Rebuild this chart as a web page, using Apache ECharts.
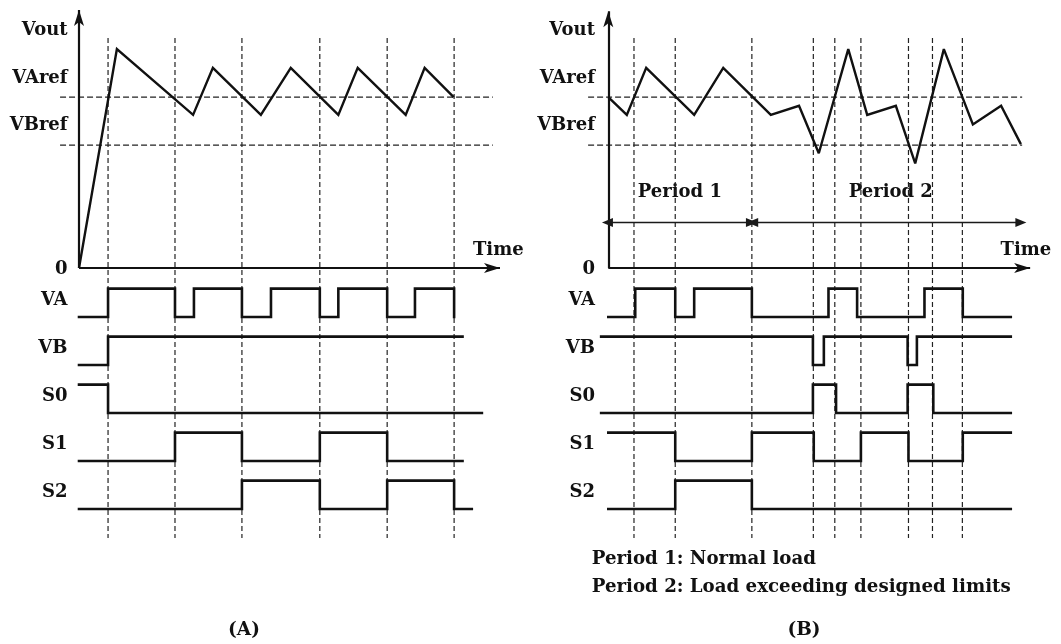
<!DOCTYPE html>
<html><head><meta charset="utf-8">
<script src="https://cdn.jsdelivr.net/npm/echarts@6/dist/echarts.min.js"></script>
<style>html,body{margin:0;padding:0;background:#fff}#c{width:1061px;height:644px}</style>
</head><body><div id="c"></div>
<script>
// ================= DATA (time in arbitrary units, voltage in arbitrary units) =================
const VAref = 3.56;
const VBref = 2.56;
const voutLabels = ['Vout', 'VAref', 'VBref', '0'];
const signalNames = ['VA', 'VB', 'S0', 'S1', 'S2'];
const axisTitle = 'Time';

// Panel A
const A_vout = [[0,0],[9.0,4.56],[27.1,3.19],[31.8,4.17],[43.2,3.19],[50.3,4.17],[61.6,3.19],[66.2,4.17],[77.6,3.19],[82.1,4.17],[89.0,3.56]];
const A_marks = [6.9, 22.8, 38.7, 57.2, 73.2, 89.1];
const A_VA = [[0,0],[6.9,1],[22.8,0],[27.3,1],[38.7,0],[45.6,1],[57.2,0],[61.6,1],[73.2,0],[79.8,1],[89.1,0]];
const A_VB = [[0,0],[6.9,1],[91.1,1]];
const A_S0 = [[0,1],[6.9,0],[95.7,0]];
const A_S1 = [[0,0],[22.8,1],[38.7,0],[57.2,1],[73.2,0],[91.1,0]];
const A_S2 = [[0,0],[38.7,1],[57.2,0],[73.2,1],[89.1,0],[93.3,0]];

// Panel B
const B_vout = [[0,3.56],[4.4,3.19],[9.0,4.17],[20.4,3.19],[27.3,4.17],[38.6,3.19],[45.3,3.38],[50.0,2.39],[57.0,4.56],[61.5,3.19],[68.3,3.38],[72.9,2.18],[79.7,4.56],[86.6,2.99],[93.3,3.38],[98.0,2.58]];
const B_marks = [6.1, 15.9, 34.1, 48.7, 53.8, 60.0, 71.3, 77.0, 84.1];
const B_VA = [[0,0],[6.4,1],[15.9,0],[20.4,1],[34.1,0],[52.3,1],[59.1,0],[75.1,1],[84.2,0],[95.6,0]];
const B_VB = [[-1.7,1],[48.6,0],[51.2,1],[71.1,0],[73.3,1],[95.6,1]];
const B_S0 = [[-1.7,0],[48.6,1],[54.1,0],[71.1,1],[77.2,0],[95.6,0]];
const B_S1 = [[0,1],[15.9,0],[34.1,1],[48.8,0],[60.0,1],[71.3,0],[84.2,1],[95.6,1]];
const B_S2 = [[0,0],[15.9,1],[34.1,0],[95.6,0]];
const periodNames = ['Period 1', 'Period 2'];
const B_periods = [[-0.2, 34.0], [34.3, 98.0]];

const notes = ['Period 1: Normal load', 'Period 2: Load exceeding designed limits'];
const panelTitles = ['(A)', '(B)'];

// ================= LAYOUT / STYLE =================
const INK = '#111';
const DASH = '#222';
const FONT_FAMILY = '"DejaVu Serif", "Liberation Serif", serif';
const FS = 18;
const X_MIN = -5, X_MAX = 101, PX_PER_X = 4.21;
const Y_MIN = -5.75, Y_MAX = 5.5, GRID_TOP = 4, GRID_H = 540;
const ROW0 = -1.02, ROW_STEP = 1.0, AMP = 0.59;
const MARK_TOP = 4.79, MARK_BOT = -5.625;

const panels = [
  { origin: 79, vout: A_vout, marks: A_marks, signals: [A_VA, A_VB, A_S0, A_S1, A_S2],
    refFrom: -4.5, refTo: 98.3, yTip: 5.375, xTip: 100.0, labelX: -2.6, timeX: 99.6 },
  { origin: 608.3, vout: B_vout, marks: B_marks, signals: [B_VA, B_VB, B_S0, B_S1, B_S2],
    refFrom: -4.8, refTo: 98.3, yTip: 5.35, xTip: 100.2, labelX: -3.04, timeX: 99.2,
    periods: B_periods, periodLabelX: [17.0, 67.1], periodY: 0.95, periodLabelY: 1.57 }
];
const voutLabelY = [4.96, 3.95, 2.97, -0.03];

const rowLow = r => ROW0 - r * ROW_STEP;

function stepPoints(sig, r) {
  const pts = [];
  sig.forEach(([t, lv], i) => {
    if (i > 0) pts.push([t, rowLow(r) + sig[i - 1][1] * AMP]);
    pts.push([t, rowLow(r) + lv * AMP]);
  });
  return pts;
}

const grids = [], xAxes = [], yAxes = [], series = [];
const ARROW_W = 7.5, ARROW_H = 16;
const PA_W = 9, PA_H = 11;

panels.forEach((P, g) => {
  grids.push({ left: P.origin - (0 - X_MIN) * PX_PER_X, top: GRID_TOP,
               width: (X_MAX - X_MIN) * PX_PER_X, height: GRID_H });
  xAxes.push({ type: 'value', gridIndex: g, min: X_MIN, max: X_MAX, show: false });
  yAxes.push({ type: 'value', gridIndex: g, min: Y_MIN, max: Y_MAX, show: false });
  const common = { type: 'line', xAxisIndex: g, yAxisIndex: g, symbol: 'none', silent: true,
                   animation: false, emphasis: { disabled: true } };
  // reference dashed lines
  [VAref, VBref].forEach(v => series.push({ ...common,
    data: [[P.refFrom, v], [P.refTo, v]], lineStyle: { color: DASH, width: 1.2, type: [6, 3] } }));
  // vertical time markers
  P.marks.forEach(t => series.push({ ...common,
    data: [[t, MARK_TOP], [t, MARK_BOT]], lineStyle: { color: DASH, width: 1.2, type: [5, 3] } }));
  // axes with arrows
  const mlData = [
    [{ coord: [0, 0] }, { coord: [0, P.yTip] }],
    [{ coord: [0, 0] }, { coord: [P.xTip, 0] }]
  ];
  // Vout waveform
  series.push({ ...common, data: P.vout, z: 4,
    lineStyle: { color: INK, width: 2.4, join: 'miter', miterLimit: 3 },
    markLine: { silent: true, animation: false, symbol: ['none', 'arrow'], symbolSize: [ARROW_W, ARROW_H],
      label: { show: false }, emphasis: { disabled: true },
      lineStyle: { color: INK, width: 2.2, type: 'solid' }, data: mlData } });
  // digital signals
  P.signals.forEach((sig, r) => series.push({ ...common, data: stepPoints(sig, r), z: 4,
    lineStyle: { color: INK, width: 2.6, join: 'miter', cap: 'square' } }));
  // period arrows
  if (P.periods) {
    series.push({ ...common, data: [],
      markLine: { silent: true, animation: false, symbol: ['triangle', 'triangle'], symbolSize: [PA_W, PA_H],
        label: { show: false }, emphasis: { disabled: true },
        itemStyle: { color: '#111' },
        lineStyle: { color: '#1a1a1a', width: 1.4, type: 'solid' },
        data: P.periods.map(([a, b]) => [{ coord: [a, P.periodY] }, { coord: [b, P.periodY] }]) } });
  }
  // labels
  const lab = [];
  voutLabels.forEach((n, i) => lab.push({ name: n, value: [P.labelX, voutLabelY[i]], label: { position: 'left' } }));
  signalNames.forEach((n, r) => lab.push({ name: n, value: [P.labelX, rowLow(r) + 0.35], label: { position: 'left' } }));
  lab.push({ name: axisTitle, value: [P.timeX, 0.365], label: { position: 'inside' } });
  if (P.periods) periodNames.forEach((n, i) => lab.push({ name: n, value: [P.periodLabelX[i], P.periodLabelY], label: { position: 'inside' } }));
  series.push({ type: 'scatter', xAxisIndex: g, yAxisIndex: g, symbolSize: 1, silent: true, animation: false,
    clip: false, itemStyle: { color: 'rgba(0,0,0,0)', opacity: 1 }, emphasis: { disabled: true }, data: lab,
    label: { show: true, distance: 0, formatter: '{b}', color: INK, opacity: 1, fontFamily: FONT_FAMILY,
             fontWeight: 'bold', fontSize: FS } });
});

const textStyle = (size) => ({ font: 'bold ' + size + 'px ' + FONT_FAMILY, fill: INK });
const graphic = [
  { type: 'text', x: 244, y: 630, style: { ...textStyle(18.5), text: panelTitles[0], align: 'center', verticalAlign: 'middle', textAlign: 'center', textVerticalAlign: 'middle' } },
  { type: 'text', x: 804, y: 630, style: { ...textStyle(18.5), text: panelTitles[1], align: 'center', verticalAlign: 'middle', textAlign: 'center', textVerticalAlign: 'middle' } },
  { type: 'text', x: 591.7, y: 559, style: { ...textStyle(18.2), text: notes[0], align: 'left', verticalAlign: 'middle', textAlign: 'left', textVerticalAlign: 'middle' } },
  { type: 'text', x: 591.7, y: 587, style: { ...textStyle(18.2), text: notes[1], align: 'left', verticalAlign: 'middle', textAlign: 'left', textVerticalAlign: 'middle' } }
];

const chart = echarts.init(document.getElementById('c'), null, { renderer: 'canvas' });
chart.setOption({
  backgroundColor: '#fff',
  animation: false,
  grid: grids, xAxis: xAxes, yAxis: yAxes, series: series, graphic: graphic
});
</script>
</body></html>
